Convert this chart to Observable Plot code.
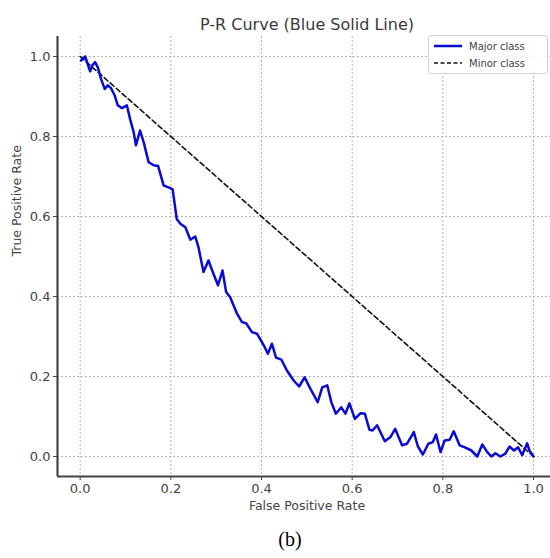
<!DOCTYPE html>
<html>
<head>
<meta charset="utf-8">
<script src="https://cdn.jsdelivr.net/npm/d3@7"></script>
<script src="https://cdn.jsdelivr.net/npm/@observablehq/plot@0.6"></script>
<style>
  html, body { margin: 0; padding: 0; background: #fff; }
  #wrap { position: relative; width: 550px; height: 558px; overflow: hidden; }
  #legend { position: absolute; left: 428px; top: 35px; width: 118px; height: 37px;
    border: 1px solid #d4d4d4; border-radius: 3px; background: rgba(255,255,255,0.85);
    font-family: "DejaVu Sans", sans-serif; font-size: 10px; color: #444; }
  #legend .row { position: absolute; left: 5px; height: 14px; display: flex; align-items: center; }
  #legend svg { margin-right: 7px; }
  #caption { width: 520px; padding-left: 30px; height: 38px; line-height: 38px; text-align: center;
    font-family: "Liberation Serif", "Times New Roman", serif; font-size: 20px; color: #000; }
</style>
</head>
<body>
<div id="wrap">
  <div id="chart"></div>
  <div id="legend"></div>
  <div id="caption">(b)</div>
</div>
<script>
// ---- data ----
const titleText = "P-R Curve (Blue Solid Line)";
const xLabel = "False Positive Rate";
const yLabel = "True Positive Rate";
const seriesNames = ["Major class", "Minor class"];
const tickValues = [0, 0.2, 0.4, 0.6, 0.8, 1.0];

const majorX = [0.002, 0.011, 0.022, 0.027, 0.033, 0.039, 0.046, 0.054, 0.061, 0.068,
  0.076, 0.083, 0.092, 0.103, 0.110, 0.118, 0.123, 0.132, 0.140, 0.151,
  0.162, 0.172, 0.184, 0.195, 0.204, 0.213, 0.221, 0.232, 0.243, 0.254,
  0.261, 0.272, 0.283, 0.294, 0.304, 0.314, 0.322, 0.331, 0.346, 0.357,
  0.366, 0.379, 0.390, 0.405, 0.414, 0.423, 0.432, 0.444, 0.456, 0.471,
  0.483, 0.495, 0.508, 0.524, 0.534, 0.545, 0.554, 0.564, 0.576, 0.585,
  0.594, 0.606, 0.618, 0.628, 0.638, 0.645, 0.655, 0.672, 0.684, 0.695,
  0.710, 0.721, 0.736, 0.745, 0.756, 0.768, 0.778, 0.785, 0.795, 0.804,
  0.815, 0.824, 0.837, 0.850, 0.863, 0.876, 0.887, 0.898, 0.907, 0.916,
  0.927, 0.938, 0.947, 0.957, 0.966, 0.975, 0.986, 0.991, 1.000];
const majorY = [0.990, 1.000, 0.963, 0.978, 0.986, 0.973, 0.944, 0.919, 0.928, 0.921,
  0.903, 0.878, 0.871, 0.878, 0.844, 0.811, 0.778, 0.815, 0.786, 0.736,
  0.728, 0.726, 0.678, 0.673, 0.668, 0.594, 0.582, 0.573, 0.542, 0.550,
  0.523, 0.461, 0.490, 0.457, 0.428, 0.465, 0.411, 0.398, 0.357, 0.336,
  0.333, 0.311, 0.307, 0.278, 0.257, 0.282, 0.247, 0.242, 0.215, 0.190,
  0.175, 0.198, 0.169, 0.136, 0.173, 0.178, 0.136, 0.107, 0.123, 0.107,
  0.133, 0.094, 0.108, 0.107, 0.067, 0.065, 0.078, 0.038, 0.048, 0.069,
  0.028, 0.032, 0.061, 0.025, 0.005, 0.032, 0.036, 0.055, 0.011, 0.040,
  0.042, 0.063, 0.028, 0.022, 0.015, 0.000, 0.030, 0.011, 0.000, 0.008,
  0.000, 0.007, 0.025, 0.015, 0.023, 0.003, 0.033, 0.015, 0.000];
const minorX = [0, 1];
const minorY = [1, 0];

// ---- styles ----
const majorColor = "#0a0ad6";
const minorColor = "#111";
const axisColor = "#444";

const major = majorX.map((x, i) => ({x, y: majorY[i]}));
const minor = minorX.map((x, i) => ({x, y: minorY[i]}));

const chart = Plot.plot({
  width: 550,
  height: 520,
  marginTop: 36,
  marginBottom: 44,
  marginLeft: 57,
  marginRight: 0,
  style: {fontFamily: "DejaVu Sans, sans-serif", fontSize: "13px", color: axisColor, background: "#fff"},
  x: {domain: [-0.05, 1.0375], label: null},
  y: {domain: [-0.05, 1.05], label: null},
  marks: [
    Plot.gridX(tickValues, {stroke: "#b5b5b5", strokeOpacity: 1, strokeDasharray: "2,2"}),
    Plot.gridY(tickValues, {stroke: "#b5b5b5", strokeOpacity: 1, strokeDasharray: "2,2"}),
    Plot.axisX(tickValues, {tickFormat: d3.format(".1f"), tickSize: 4, tickPadding: 3, stroke: axisColor, fill: axisColor, label: null}),
    Plot.axisY(tickValues, {tickFormat: d3.format(".1f"), tickSize: 4, tickPadding: 3, stroke: axisColor, fill: axisColor, label: null}),
    Plot.ruleX([-0.05], {stroke: axisColor, strokeWidth: 2.2}),
    Plot.ruleY([-0.05], {stroke: axisColor, strokeWidth: 2.2}),
    Plot.line(minor, {x: "x", y: "y", stroke: minorColor, strokeWidth: 1.6, strokeDasharray: "5,3"}),
    Plot.line(major, {x: "x", y: "y", stroke: majorColor, strokeWidth: 2.5, strokeLinejoin: "round"}),
    Plot.text([titleText], {frameAnchor: "top", dy: -18, dx: 3, fontSize: 16, fill: "#3a3a3a"}),
    Plot.text([xLabel], {frameAnchor: "bottom", dy: 33, dx: 3, fontSize: 12.5, fill: "#444"}),
    Plot.text([yLabel], {frameAnchor: "left", dx: -41, rotate: -90, fontSize: 12.5, fill: "#444"})
  ]
});
document.getElementById("chart").appendChild(chart);

// legend
const legend = document.getElementById("legend");
const styles = [
  {stroke: majorColor, width: 2.5, dash: null},
  {stroke: minorColor, width: 1.5, dash: "4,2.5"}
];
seriesNames.forEach((name, i) => {
  const row = document.createElement("div");
  row.className = "row";
  row.style.top = (3 + i * 17) + "px";
  const s = styles[i];
  row.innerHTML = `<svg width="28" height="6"><line x1="0" y1="3" x2="28" y2="3" stroke="${s.stroke}" stroke-width="${s.width}" ${s.dash ? `stroke-dasharray="${s.dash}"` : ""}/></svg><span>${name}</span>`;
  legend.appendChild(row);
});
</script>
</body>
</html>
